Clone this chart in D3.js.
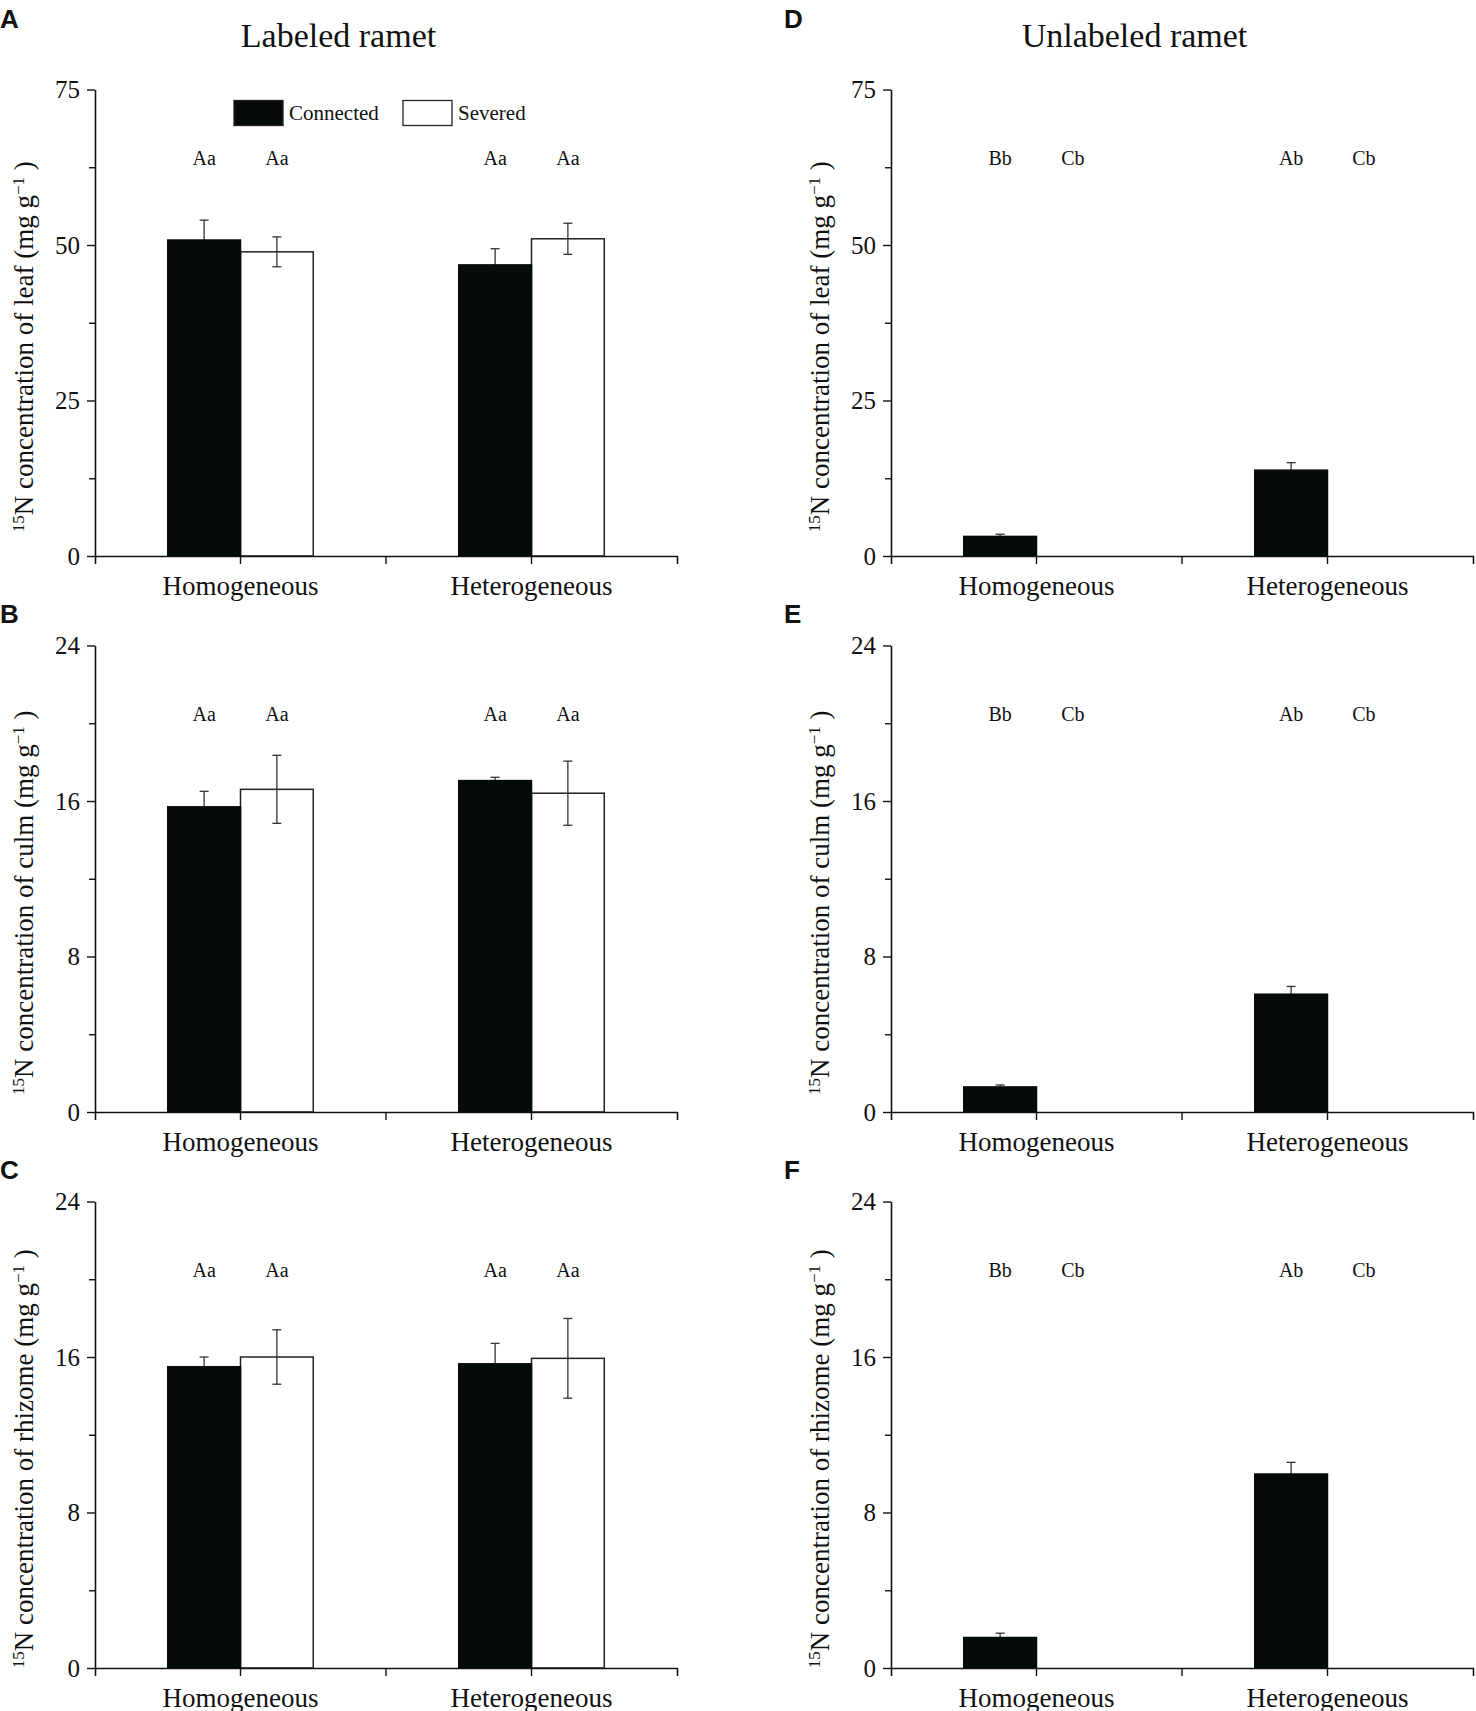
<!DOCTYPE html>
<html>
<head>
<meta charset="utf-8">
<script src="https://cdn.jsdelivr.net/npm/d3@7"></script>
<style>
  body { margin: 0; background: #fff; }
  svg { display: block; }
  text { font-family: "Liberation Serif", "Times New Roman", serif; fill: #111; }
</style>
</head>
<body>
<div id="chart"></div>
<script>
// categorias e tratamentos
const groups = ["Homogeneous", "Heterogeneous"];
const treatments = ["Connected", "Severed"];

// médias na ordem: Homo-Connected, Homo-Severed, Hetero-Connected, Hetero-Severed
const labeledLeaf = [50.8, 48.9, 46.8, 51.0];
const labeledLeafSE = [3.2, 2.4, 2.6, 2.5];
const labeledCulm = [15.7, 16.6, 17.05, 16.4];
const labeledCulmSE = [0.8, 1.75, 0.17, 1.65];
const labeledRhizome = [15.5, 16.0, 15.65, 15.93];
const labeledRhizomeSE = [0.5, 1.4, 1.05, 2.05];
const unlabeledLeaf = [3.15, 0, 13.8, 0];
const unlabeledLeafSE = [0.35, 0, 1.2, 0];
const unlabeledCulm = [1.29, 0, 6.06, 0];
const unlabeledCulmSE = [0.1, 0, 0.4, 0];
const unlabeledRhizome = [1.57, 0, 9.98, 0];
const unlabeledRhizomeSE = [0.22, 0, 0.6, 0];

// letras de significância
const labeledLetters = ["Aa", "Aa", "Aa", "Aa"];
const unlabeledLetters = ["Bb", "Cb", "Ab", "Cb"];

// eixos y: ticks e altura das letras
const leafTicks = [0, 25, 50, 75];
const stemTicks = [0, 8, 16, 24];
const leafLetterLevel = 64;
const stemLetterLevel = 20.5;

const columnTitles = ["Labeled ramet", "Unlabeled ramet"];
const organs = ["leaf", "culm", "rhizome"];

const panels = [
  {letter: "A", col: 0, row: 0, values: labeledLeaf, se: labeledLeafSE, marks: labeledLetters, ticks: leafTicks, level: leafLetterLevel, legend: true},
  {letter: "B", col: 0, row: 1, values: labeledCulm, se: labeledCulmSE, marks: labeledLetters, ticks: stemTicks, level: stemLetterLevel},
  {letter: "C", col: 0, row: 2, values: labeledRhizome, se: labeledRhizomeSE, marks: labeledLetters, ticks: stemTicks, level: stemLetterLevel},
  {letter: "D", col: 1, row: 0, values: unlabeledLeaf, se: unlabeledLeafSE, marks: unlabeledLetters, ticks: leafTicks, level: leafLetterLevel},
  {letter: "E", col: 1, row: 1, values: unlabeledCulm, se: unlabeledCulmSE, marks: unlabeledLetters, ticks: stemTicks, level: stemLetterLevel},
  {letter: "F", col: 1, row: 2, values: unlabeledRhizome, se: unlabeledRhizomeSE, marks: unlabeledLetters, ticks: stemTicks, level: stemLetterLevel}
];

const largura = 1476, altura = 1711;
const colStart = [0, 796];
const axisX0 = [95, 891];
const plotW = 582;
const rowTop = [89.5, 645.5, 1201.5];
const plotH = 466.5;

const svg = d3.select("#chart").append("svg")
  .attr("width", largura)
  .attr("height", altura);

// títulos das colunas
columnTitles.forEach((t, i) => {
  svg.append("text")
    .attr("x", (colStart[i] + axisX0[i] + plotW) / 2)
    .attr("y", 47)
    .attr("text-anchor", "middle")
    .style("font-size", "34px")
    .text(t);
});

panels.forEach(p => {
  const x0 = axisX0[p.col], top = rowTop[p.row];
  const g = svg.append("g").attr("transform", `translate(${x0},${top})`);

  const x = d3.scaleBand().domain(groups).range([0, plotW]);
  const xi = d3.scaleBand().domain(treatments).range([0, x.bandwidth()]).paddingOuter(1);
  const yMax = d3.max(p.ticks);
  const y = d3.scaleLinear().domain([0, yMax]).range([plotH, 0]);

  const rows = p.values.map((v, i) => ({
    group: groups[Math.floor(i / 2)],
    treat: treatments[i % 2],
    value: v,
    se: p.se[i],
    mark: p.marks[i]
  }));

  // letra do painel
  svg.append("text")
    .attr("x", p.col === 0 ? 0 : colStart[p.col] - 12)
    .attr("y", p.row === 0 ? 28 : top - 23)
    .style("font-family", "'Liberation Sans', Arial, sans-serif")
    .style("font-weight", "bold")
    .style("font-size", "26px")
    .text(p.letter);

  const bars = rows.filter(d => d.value > 0);
  const cx = d => x(d.group) + xi(d.treat) + xi.bandwidth() / 2;

  function drawBars(sel) {
    g.selectAll(null)
      .data(sel)
      .join("rect")
      .attr("x", d => x(d.group) + xi(d.treat))
      .attr("width", xi.bandwidth())
      .attr("y", d => y(d.value))
      .attr("height", d => y(0) - y(d.value))
      .attr("fill", d => d.treat === "Connected" ? "#050a0a" : "#fff")
      .attr("stroke", d => d.treat === "Connected" ? "#050a0a" : "#222")
      .attr("stroke-width", 1.5);
  }

  // barras brancas, depois barras de erro, depois barras pretas por cima
  drawBars(bars.filter(d => d.treat === "Severed"));

  const eb = g.selectAll(null)
    .data(bars.filter(d => d.se > 0))
    .join("g")
    .attr("stroke", "#333")
    .attr("stroke-width", 1.3);
  eb.append("line")
    .attr("x1", cx).attr("x2", cx)
    .attr("y1", d => y(d.value + d.se))
    .attr("y2", d => y(d.value - d.se));
  eb.append("line")
    .attr("x1", d => cx(d) - 4.5).attr("x2", d => cx(d) + 4.5)
    .attr("y1", d => y(d.value + d.se)).attr("y2", d => y(d.value + d.se));
  eb.append("line")
    .attr("x1", d => cx(d) - 4.5).attr("x2", d => cx(d) + 4.5)
    .attr("y1", d => y(d.value - d.se)).attr("y2", d => y(d.value - d.se));

  drawBars(bars.filter(d => d.treat === "Connected"));

  // letras de significância
  g.selectAll("text.mark")
    .data(rows)
    .join("text")
    .attr("class", "mark")
    .attr("x", cx)
    .attr("y", y(p.level))
    .attr("dy", "0.35em")
    .attr("text-anchor", "middle")
    .style("font-size", "20px")
    .text(d => d.mark);

  // eixo y
  const step = p.ticks[1] - p.ticks[0];
  const minor = p.ticks.slice(1).map(t => t - step / 2);
  g.append("g")
    .call(d3.axisLeft(y).tickValues(minor).tickSize(6).tickFormat(""))
    .call(a => a.select(".domain").remove())
    .call(a => a.selectAll("line").attr("stroke", "#111").attr("stroke-width", 1.4));
  g.append("g")
    .call(d3.axisLeft(y).tickValues(p.ticks).tickSize(8).tickSizeOuter(0).tickPadding(7).tickFormat(d3.format("d")))
    .call(a => a.select(".domain").attr("stroke", "#111").attr("stroke-width", 1.6))
    .call(a => a.selectAll("line").attr("stroke", "#111").attr("stroke-width", 1.4))
    .call(a => a.selectAll("text")
      .style("font-family", "'Liberation Serif', 'Times New Roman', serif")
      .style("font-size", "25px").attr("fill", "#111"));

  // eixo x
  const xAxis = g.append("g")
    .attr("transform", `translate(0,${plotH})`)
    .call(d3.axisBottom(x).tickSize(8).tickSizeOuter(8).tickPadding(12))
    .call(a => a.select(".domain").attr("stroke", "#111").attr("stroke-width", 1.6))
    .call(a => a.selectAll("line").attr("stroke", "#111").attr("stroke-width", 1.4))
    .call(a => a.selectAll("text")
      .style("font-family", "'Liberation Serif', 'Times New Roman', serif")
      .style("font-size", "27px").attr("fill", "#111"));
  xAxis.append("line")
    .attr("x1", x(groups[1])).attr("x2", x(groups[1]))
    .attr("y1", 0).attr("y2", 8)
    .attr("stroke", "#111").attr("stroke-width", 1.4);

  // rótulo do eixo y
  const lab = g.append("text")
    .attr("transform", `translate(-62,${plotH / 2 + 24}) rotate(-90)`)
    .attr("text-anchor", "middle")
    .style("font-size", "27px");
  lab.append("tspan").attr("baseline-shift", "super").style("font-size", "17px").text("15");
  lab.append("tspan").text(`N concentration of ${organs[p.row]} (mg g`);
  lab.append("tspan").attr("baseline-shift", "super").style("font-size", "17px").text("\u22121");
  lab.append("tspan").text(" )");

  // legenda
  if (p.legend) {
    const leg = g.append("g").attr("transform", `translate(139,11)`);
    treatments.forEach((t, i) => {
      const lx = i * 169;
      leg.append("rect")
        .attr("x", lx).attr("y", 0)
        .attr("width", 49).attr("height", 25)
        .attr("fill", i === 0 ? "#050a0a" : "#fff")
        .attr("stroke", "#222").attr("stroke-width", 1.3);
      leg.append("text")
        .attr("x", lx + 55).attr("y", 12.5)
        .attr("dy", "0.35em")
        .style("font-size", "21px")
        .text(t);
    });
  }
});
</script>
</body>
</html>
